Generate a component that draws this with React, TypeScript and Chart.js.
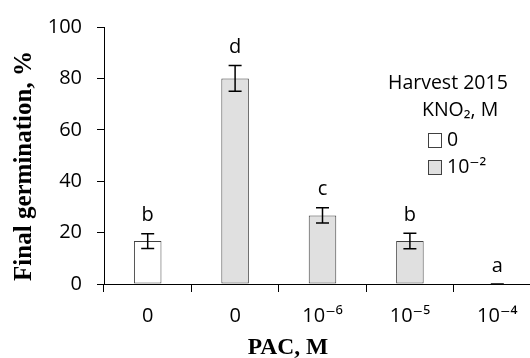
import React, { useEffect, useRef } from "react";
import { Chart, registerables } from "chart.js";

Chart.register(...registerables);

// ---- data ----
const categories = ["0", "0", "10⁻⁶", "10⁻⁵", "10⁻⁴"];
const values = [16.7, 80, 26.7, 16.7, 0];
const errors = [2.9, 5, 3, 3, 0];
const letters = ["b", "d", "c", "b", "a"];
const groupOfBar = [0, 1, 1, 1, 1];
const legendTitle = ["Harvest 2015", "KNO₂, M"];
const legendLabels = ["0", "10⁻²"];
const groupFills = ["#ffffff", "#e0e0e0"];
const yTitle = "Final germination, %";
const xTitle = "PAC, M";

const SANS = "'Open Sans', 'DejaVu Sans', sans-serif";
const SERIF = "'Liberation Serif', 'DejaVu Serif', serif";

const overlay = {
  id: "overlay",
  afterDatasetsDraw(chart: any) {
    const { ctx, scales } = chart;
    const y = scales.y;
    const meta = chart.getDatasetMeta(0);
    ctx.save();
    values.forEach((v, i) => {
      const cx = meta.data[i].x;
      const top = y.getPixelForValue(v + errors[i]);
      const bot = y.getPixelForValue(v - errors[i]);
      ctx.strokeStyle = "#000";
      ctx.lineWidth = 1.5;
      ctx.beginPath();
      ctx.moveTo(cx, top);
      ctx.lineTo(cx, bot);
      ctx.moveTo(cx - 6.5, top);
      ctx.lineTo(cx + 6.5, top);
      ctx.moveTo(cx - 6.5, bot);
      ctx.lineTo(cx + 6.5, bot);
      ctx.stroke();
      ctx.fillStyle = "#000";
      ctx.font = `20px ${SANS}`;
      ctx.textAlign = "center";
      ctx.textBaseline = "middle";
      ctx.fillText(letters[i], cx, top - 18);
    });

    // legend
    ctx.font = `19.5px ${SANS}`;
    ctx.textAlign = "left";
    ctx.textBaseline = "middle";
    ctx.fillStyle = "#000";
    ctx.fillText(legendTitle[0], 388, 83);
    ctx.fillText(legendTitle[1], 422, 110);
    legendLabels.forEach((lab, i) => {
      const by = 133 + i * 27;
      ctx.fillStyle = groupFills[i];
      ctx.fillRect(428, by, 13, 14);
      ctx.strokeStyle = "#404040";
      ctx.lineWidth = 1;
      ctx.strokeRect(428.5, by + 0.5, 13, 14);
      ctx.fillStyle = "#000";
      ctx.fillText(lab, 447, by + 7);
    });

    // axis titles
    ctx.font = `bold 23.5px ${SERIF}`;
    ctx.textAlign = "center";
    ctx.textBaseline = "middle";
    ctx.fillText(xTitle, 288, 348);
    ctx.font = `bold 25px ${SERIF}`;
    ctx.save();
    ctx.translate(25, 166);
    ctx.rotate(-Math.PI / 2);
    ctx.fillText(yTitle, 0, 0);
    ctx.restore();
    ctx.restore();
  },
};

export default function App() {
  const ref = useRef<HTMLCanvasElement | null>(null);
  useEffect(() => {
    if (!ref.current) return;
    const chart = new Chart(ref.current, {
      type: "bar",
      data: {
        labels: categories,
        datasets: [
          {
            data: values,
            backgroundColor: groupOfBar.map((g) => groupFills[g]),
            borderColor: "#404040",
            borderWidth: 1,
            borderSkipped: false,
            barPercentage: 0.315,
            categoryPercentage: 1,
          },
        ],
      },
      options: {
        animation: false,
        responsive: false,
        devicePixelRatio: 1,
        layout: { padding: { top: 24, right: 0, bottom: 0, left: 0 } },
        plugins: { legend: { display: false }, tooltip: { enabled: false } },
        scales: {
          x: {
            afterFit: (s: any) => {
              s.height = 74;
            },
            grid: {
              display: true,
              drawOnChartArea: false,
              drawTicks: true,
              tickLength: 8,
              color: "#000",
              offset: true,
            },
            border: { display: true, color: "#000", width: 1 },
            ticks: {
              color: "#000",
              font: { family: SANS, size: 20 },
              padding: 12,
              maxRotation: 0,
            },
          },
          y: {
            min: 0,
            max: 100,
            afterFit: (s: any) => {
              s.width = 104;
            },
            grid: {
              display: true,
              drawOnChartArea: false,
              drawTicks: true,
              tickLength: 7,
              color: "#000",
            },
            border: { display: true, color: "#000", width: 1 },
            ticks: {
              stepSize: 20,
              color: "#000",
              font: { family: SANS, size: 20 },
              padding: 15,
            },
          },
        },
      },
      plugins: [overlay],
    });
    return () => chart.destroy();
  }, []);
  return (
    <div
      style={{
        position: "absolute",
        left: 0,
        top: 0,
        width: 530,
        height: 358,
        overflow: "hidden",
        background: "#fff",
      }}
    >
      <canvas ref={ref} width={541} height={358} style={{ width: 541, height: 358 }} />
    </div>
  );
}
